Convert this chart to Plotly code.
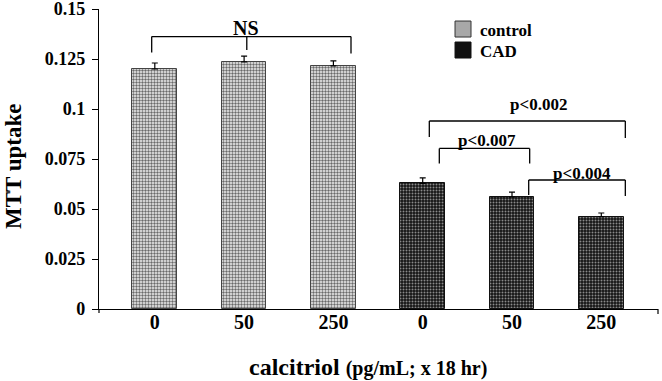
import plotly.graph_objects as go

# ---- data ----
dose_labels = ["0", "50", "250", "0", "50", "250"]
control_x = [0, 1, 2]
cad_x = [3, 4, 5]
control_mtt = [0.120, 0.1236, 0.1216]
control_err = [0.0030, 0.0028, 0.0025]
cad_mtt = [0.0628, 0.0560, 0.0462]
cad_err = [0.0028, 0.0024, 0.0018]
y_ticks = [0, 0.025, 0.05, 0.075, 0.1, 0.125, 0.15]
y_tick_labels = ["0", "0.025", "0.05", "0.075", "0.1", "0.125", "0.15"]

# brackets: (x_left, x_right, y_level, y_left_end, y_right_end, label, label_x, label_y)
brackets = [
    (3.074, 5.269, 0.0940, 0.0860, 0.0855, "p<0.002", 4.30, 0.1025),
    (3.186, 4.198, 0.0803, 0.0728, 0.0728, "p<0.007", 3.72, 0.0845),
    (4.187, 5.269, 0.0645, 0.0570, 0.0565, "p<0.004", 4.78, 0.0680),
]
ns_bracket = (-0.035, 2.197, 0.1362, 0.1282, 0.1278, 1.03, 0.1295)

FONT = "Liberation Serif"

fig = go.Figure()
fig.add_trace(go.Bar(
    x=control_x, y=control_mtt, width=0.5, name="control",
    marker=dict(color="#d8d8d8", line=dict(color="#444", width=1),
                pattern=dict(shape=".", fgcolor="#6a6a6a", bgcolor="#f2f2f2",
                             size=3, solidity=0.5, fillmode="replace")),
    error_y=dict(type="data", symmetric=False, array=control_err,
                 arrayminus=[0, 0, 0], color="black", thickness=1.2, width=3),
    showlegend=False,
))
fig.add_trace(go.Bar(
    x=cad_x, y=cad_mtt, width=0.5, name="CAD",
    marker=dict(color="#222", line=dict(color="#111", width=1),
                pattern=dict(shape=".", fgcolor="#8a8a8a", bgcolor="#141414",
                             size=3, solidity=0.35, fillmode="replace")),
    error_y=dict(type="data", symmetric=False, array=cad_err,
                 arrayminus=[0, 0, 0], color="black", thickness=1.2, width=3),
    showlegend=False,
))

shapes = []
line = dict(color="black", width=1.3)
for xl, xr, yl, yle, yre, lab, lx, ly in brackets:
    shapes += [
        dict(type="line", xref="x", yref="y", x0=xl, x1=xr, y0=yl, y1=yl, line=line),
        dict(type="line", xref="x", yref="y", x0=xl, x1=xl, y0=yl, y1=yle, line=line),
        dict(type="line", xref="x", yref="y", x0=xr, x1=xr, y0=yl, y1=yre, line=line),
    ]
    fig.add_annotation(x=lx, y=ly, text="<b>%s</b>" % lab, showarrow=False,
                       font=dict(family=FONT, size=17, color="black"))

xl, xr, yl, yle, yre, xm, ym = ns_bracket
shapes += [
    dict(type="line", xref="x", yref="y", x0=xl, x1=xr, y0=yl, y1=yl, line=line),
    dict(type="line", xref="x", yref="y", x0=xl, x1=xl, y0=yl, y1=yle, line=line),
    dict(type="line", xref="x", yref="y", x0=xr, x1=xr, y0=yl, y1=yre, line=line),
    dict(type="line", xref="x", yref="y", x0=xm, x1=xm, y0=yl, y1=ym, line=line),
]
fig.add_annotation(x=1.02, y=0.1405, text="<b>NS</b>", showarrow=False,
                   font=dict(family=FONT, size=20, color="black"))

# legend (manual)
shapes += [
    dict(type="rect", xref="x", yref="y", x0=3.362, x1=3.541, y0=0.136, y1=0.1440,
         fillcolor="#a8a8a8", line=dict(color="#333", width=1)),
    dict(type="rect", xref="x", yref="y", x0=3.362, x1=3.541, y0=0.1255, y1=0.1335,
         fillcolor="#111", line=dict(color="#111", width=1)),
]
fig.add_annotation(x=3.616, y=0.1392, text="<b>control</b>", showarrow=False,
                   xanchor="left", font=dict(family=FONT, size=17, color="black"))
fig.add_annotation(x=3.616, y=0.1290, text="<b>CAD</b>", showarrow=False,
                   xanchor="left", font=dict(family=FONT, size=17, color="black"))

# axis overhangs
shapes += [
    dict(type="line", xref="paper", yref="paper", x0=0, x1=0, y0=0, y1=-0.013,
         line=dict(color="black", width=1.2)),
    dict(type="line", xref="paper", yref="paper", x0=1, x1=1, y0=0, y1=-0.017,
         line=dict(color="black", width=1.2)),
]

# axis titles
fig.add_annotation(xref="paper", yref="paper", x=(14 - 99) / 559, y=(309 - 167) / 300,
                   xanchor="center", yanchor="middle",
                   text="<b>MTT uptake</b>", textangle=-90, showarrow=False,
                   font=dict(family=FONT, size=23, color="black"))
fig.add_annotation(xref="paper", yref="paper", x=(367.5 - 99) / 559, y=-(367 - 309) / 300,
                   xanchor="center", yanchor="middle",
                   text="<b>calcitriol</b> <b><span style='font-size:20px'>(pg/mL; x 18 hr)</span></b>",
                   showarrow=False, font=dict(family=FONT, size=24, color="black"))

fig.update_layout(
    width=662, height=381,
    margin=dict(l=99, r=4, t=9, b=72, autoexpand=False),
    plot_bgcolor="white", paper_bgcolor="white",
    shapes=shapes,
    bargap=0,
    font=dict(family=FONT, color="black"),
)
fig.update_xaxes(range=[-0.625, 5.635], tickvals=control_x + cad_x,
                 ticktext=["<b>%s</b>" % t for t in dose_labels],
                 tickfont=dict(family=FONT, size=20, color="black"),
                 showline=True, linecolor="black", linewidth=1.2, automargin=False,
                 ticks="", showgrid=False, zeroline=False, ticklabelstandoff=-5,
                 ticklabeloverflow="allow")
fig.update_yaxes(range=[0, 0.15001],
                 tickvals=y_ticks,
                 ticktext=["<b>%s</b>" % t for t in y_tick_labels],
                 tickfont=dict(family=FONT, size=18, color="black"),
                 showline=True, linecolor="black", linewidth=1.2, automargin=False,
                 ticks="outside", ticklen=6, tickcolor="black", tickwidth=1.2,
                 showgrid=False, zeroline=False, ticklabelstandoff=3,
                 ticklabeloverflow="allow")

fig.write_html("out.html", config={"displayModeBar": False},
               post_script="document.body.style.margin='0';document.body.style.overflow='hidden';")
